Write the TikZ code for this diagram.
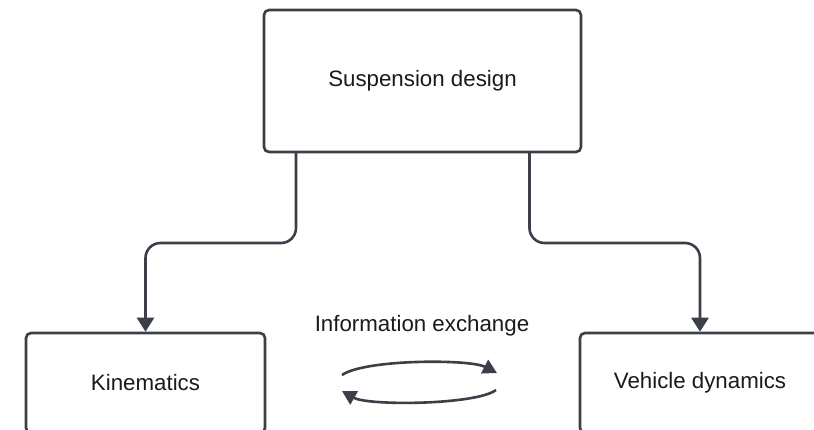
\documentclass[tikz,border=0pt]{standalone}
\usepackage{fontspec}
\setmainfont{Liberation Sans}
\usetikzlibrary{arrows.meta}
\definecolor{linec}{HTML}{3A3F48}
\definecolor{textc}{HTML}{1A1A1A}
\tikzset{
  box/.style={draw=linec, line width=2.6pt, rounded corners=5pt, fill=white,
    text=textc, font=\fontsize{22.3}{26}\selectfont, inner sep=0pt},
  conn/.style={draw=linec, line width=2.6pt, rounded corners=15pt,
    -{Triangle[width=17pt,length=14pt]}},
  swirl/.style={draw=linec, line width=2.6pt,
    -{Triangle[width=15pt,length=14pt]}},
  lbl/.style={text=textc, font=\fontsize{22.3}{26}\selectfont, inner sep=0pt}
}
\begin{document}
\begin{tikzpicture}[x=1pt,y=-1pt]
\useasboundingbox (0,0) rectangle (814,429);
\clip (0,0) rectangle (814,429);
\fill[white] (0,0) rectangle (814,429);
\node[box, minimum width=317pt, minimum height=142pt] (sus) at (422.5,81) {Suspension design};
\node[box, minimum width=239pt, minimum height=100pt] (kin) at (145.5,383) {Kinematics};
\node[box, minimum width=240pt, minimum height=100pt] (veh) at (700,383) {Vehicle dynamics};
\node[lbl] (info) at (422,326) {Information exchange};
\coordinate (ls) at (296,152);
\coordinate (rs) at (529.5,152);
\draw[conn] (ls) -- (296,243) -| (kin.north);
\draw[conn] (rs) -- (529.5,243) -| (veh.north);
\coordinate (a1) at (342,375);
\coordinate (a2) at (497,373);
\coordinate (b1) at (496,390);
\coordinate (b2) at (342,391);
\draw[swirl] (a1) .. controls (365,359) and (470,359) .. (a2);
\draw[swirl] (b1) .. controls (476,405) and (368,406) .. (b2);
\end{tikzpicture}
\end{document}
